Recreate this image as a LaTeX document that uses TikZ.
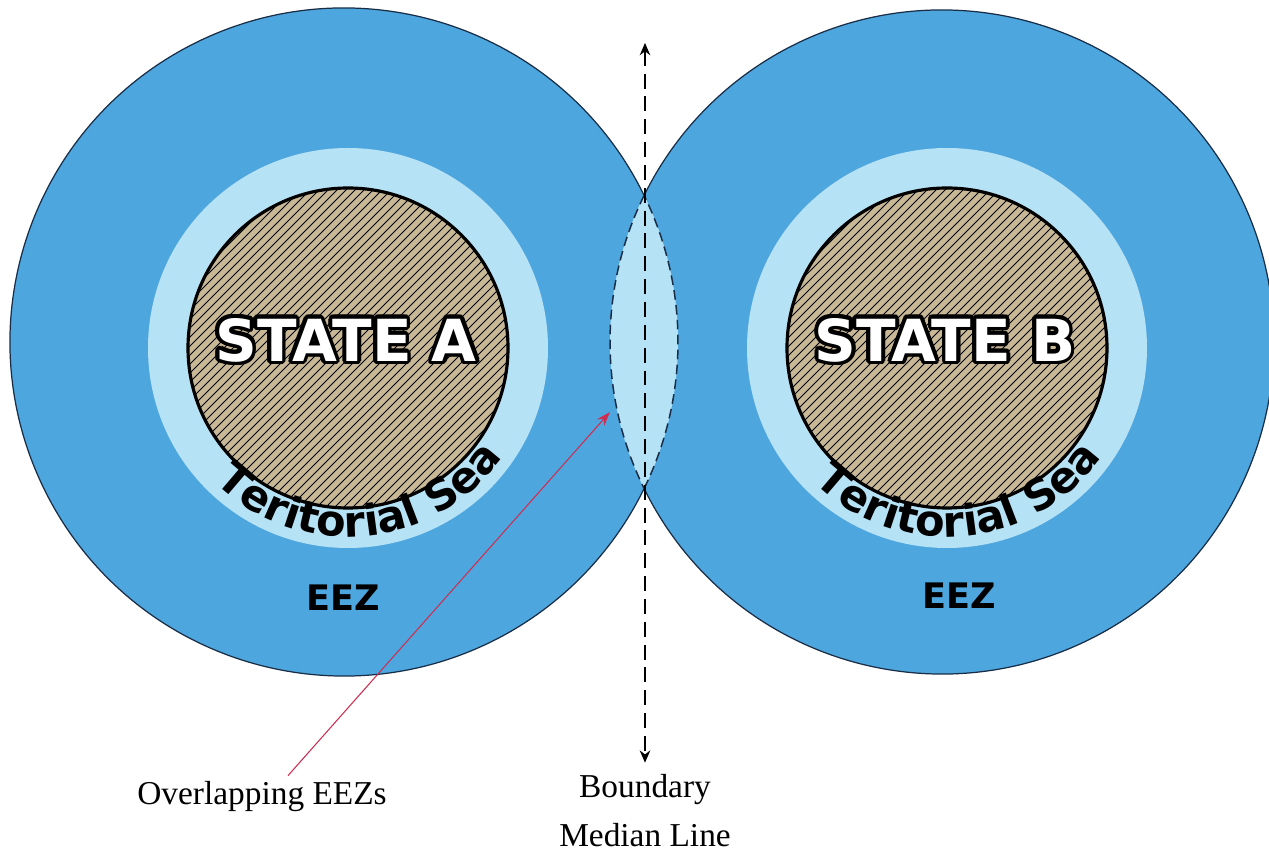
\documentclass[tikz,border=0pt]{standalone}
\usepackage{fontspec}
\setmainfont{Liberation Serif}
\newfontfamily\heavysans{DejaVu Sans}
\usepackage{tikz}
\usetikzlibrary{calc,positioning,arrows.meta,decorations.text}
\definecolor{eezblue}{RGB}{78,166,222}
\definecolor{seablue}{RGB}{182,226,246}
\definecolor{landtan}{RGB}{200,184,150}
\definecolor{rimcol}{RGB}{25,45,70}
\definecolor{pointred}{RGB}{205,45,80}

\begin{document}
\begin{tikzpicture}[x=0.02cm,y=0.02cm,
  rim/.style={draw=rimcol,line width=0.7pt},
  lensrim/.style={rim,line width=0.85pt,dash pattern=on 5.5pt off 3pt},
  statename/.style={inner sep=0pt,
    font=\heavysans\bfseries\fontsize{33}{36}\selectfont},
  zonename/.style={inner sep=0pt,font=\heavysans\bfseries\fontsize{20}{24}\selectfont},
  caption/.style={align=center,font=\fontsize{19}{28}\selectfont},
  median/.style={{Stealth[length=7pt,width=6pt]}-{Stealth[length=7pt,width=6pt]},
    dash pattern=on 8.5pt off 4.5pt,line width=0.8pt,shorten >=3pt},
  pointer/.style={draw=pointred,line width=0.6pt,-{Stealth[length=8pt,width=5.5pt]}}]

% white letters with a black rim
\newcommand\haloed[1]{%
  \foreach \a in {0,20,...,340}{%
    \pgfmathsetlengthmacro\hx{2.1pt*cos(\a)}%
    \pgfmathsetlengthmacro\hy{2.1pt*sin(\a)}%
    \rlap{\hspace*{\hx}\raisebox{\hy}{\color{black}#1}}}%
  {\color{white}#1}}
% land, territorial sea and the name of one state
\newcommand\DrawState[3]{% #1 centre, #2 name, #3 node
  \fill[seablue] (#1) circle (200);
  \begin{scope}
    \clip (#1) circle (160);
    \fill[landtan] (#1) circle (160);
    \foreach \k in {-340,-331,...,340}
      \draw[line width=0.45pt] ($(#1)+(\k-170,-170)$) -- ($(#1)+(\k+170,170)$);
  \end{scope}
  \draw[line width=1.8pt] (#1) circle (160);
  \node[statename] (#3) at ($(#1)+(-2,8)$) {\haloed{#2}};
  \path[decorate,decoration={text along path,text align=center,
      text={|\heavysans\bfseries\fontsize{24.5}{28}\selectfont|Teritorial Sea}}]
    ($(#1)+(185:189)$) arc[start angle=185,end angle=365,radius=189];
}

\useasboundingbox (0,0) rectangle (1269,852);
\clip (0,0) rectangle (1269,852);

\coordinate (A) at (344,510);
\coordinate (B) at (942,510);

% the two EEZs and their overlap
\fill[eezblue] (A) circle (334) (B) circle (332);
\begin{scope}
  \clip (A) circle (334);
  \fill[seablue] (B) circle (332);
\end{scope}

% "5.98" is the distance of the centres, in hundreds of pixels
\pgfmathsetmacro\angA{acos((5.98^2+3.34^2-3.32^2)/(2*5.98*3.34))}
\pgfmathsetmacro\angB{acos((5.98^2+3.32^2-3.34^2)/(2*5.98*3.32))}
\draw[rim] ($(A)+(\angA:334)$) arc[start angle=\angA,end angle=360-\angA,radius=334];
\draw[rim] ($(B)+(180+\angB:332)$) arc[start angle=180+\angB,end angle=540-\angB,radius=332];
\draw[lensrim] ($(A)+(-\angA:334)$) arc[start angle=-\angA,end angle=\angA,radius=334];
\draw[lensrim] ($(B)+(180-\angB:332)$) arc[start angle=180-\angB,end angle=180+\angB,radius=332];

\coordinate (TA) at (348,504);
\coordinate (TB) at (947,504);
\DrawState{TA}{STATE A}{sa}
\DrawState{TB}{STATE B}{sb}

\node[zonename] (eza) at (343,254) {EEZ};
\node[zonename] (ezb) at (959,256) {EEZ};

% median line
\coordinate (mtop) at (645,809);
\node[caption,anchor=north] (bml) at (645,84) {Boundary\\Median Line};
\draw[median] (mtop) -- (bml.north);

% overlap label
\node[caption,anchor=base] (ovl) at (262,47) {Overlapping EEZs};
\coordinate (lensW) at (610,440);
\draw[pointer] ($(ovl.north)+(26,0)$) -- (lensW);
\end{tikzpicture}
\end{document}
